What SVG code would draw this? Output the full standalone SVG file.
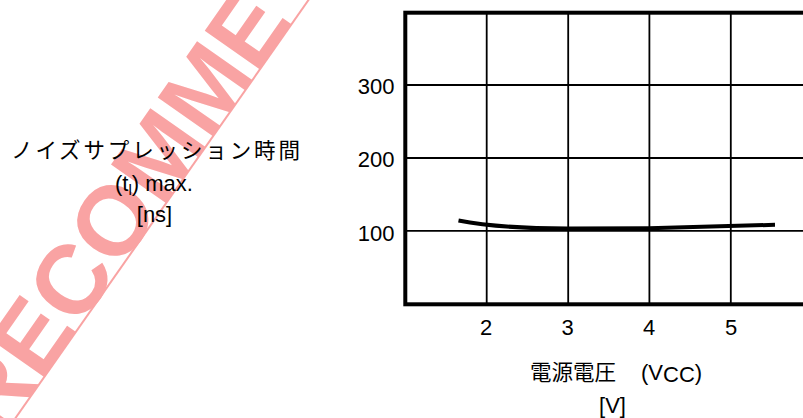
<svg xmlns="http://www.w3.org/2000/svg" width="803" height="418" viewBox="0 0 803 418">
<style>
.t{font-family:"Liberation Sans",Arial,"Noto Sans CJK JP",sans-serif;font-size:22px;fill:#000}
.j{font-family:"Noto Sans CJK JP","Liberation Sans",sans-serif;font-size:21.5px;fill:#000}
.grid{stroke:#000;stroke-width:1.8;fill:none}
.frame{stroke:#000;stroke-width:4;fill:none}
.wm{font-family:"Liberation Sans",Arial,sans-serif;font-weight:bold;font-size:98px;fill:#f9a3a3}
</style>
<rect width="803" height="418" fill="#fff"/>
<g id="watermark">
  <line x1="5" y1="433" x2="312" y2="-5" stroke="#f9a3a3" stroke-width="2"/>
  <text class="wm" transform="translate(0.1,440.4) rotate(-55)">RECOMME</text>
</g>
<g id="chart">
  <g class="grid">
    <line x1="486.7" y1="12.7" x2="486.7" y2="304"/>
    <line x1="568.2" y1="12.7" x2="568.2" y2="304"/>
    <line x1="649.4" y1="12.7" x2="649.4" y2="304"/>
    <line x1="730.8" y1="12.7" x2="730.8" y2="304"/>
    <line x1="405" y1="85" x2="803" y2="85"/>
    <line x1="405" y1="158" x2="803" y2="158"/>
    <line x1="405" y1="230.8" x2="803" y2="230.8"/>
  </g>
  <rect class="frame" x="405.3" y="12.7" width="500" height="291.6"/>
  <g class="t" text-anchor="end">
    <text x="394.5" y="93.5">300</text>
    <text x="394.5" y="166.5">200</text>
    <text x="394.5" y="241">100</text>
  </g>
  <g class="t" text-anchor="middle">
    <text x="486" y="335">2</text>
    <text x="567.5" y="335">3</text>
    <text x="649" y="335">4</text>
    <text x="731" y="335">5</text>
  </g>
</g>
<g id="data-curve">
  <path d="M458.5,220.5 Q500,228.5 568,228.6 L649,228.2 Q700,226.8 775,224.8" fill="none" stroke="#000" stroke-width="4"/>
</g>
<g id="y-axis-label">
  <text class="j" x="11" y="158" textLength="289" lengthAdjust="spacing">ノイズサプレッション時間</text>
  <text class="t" x="154" y="191" text-anchor="middle" font-size="23px">(t<tspan font-size="15" dy="4">l</tspan><tspan dy="-4">) max.</tspan></text>
  <text class="t" x="154.5" y="222" text-anchor="middle" font-size="23px">[ns]</text>
</g>
<g id="x-axis-label">
  <text x="530" y="380"><tspan class="j" font-size="22.5px">電源電圧</tspan><tspan class="t" x="641" font-size="23px">(V</tspan><tspan class="t" font-size="16px" dy="1.5">CC</tspan><tspan class="t" font-size="23px" dy="-1.5">)</tspan></text>
  <text class="t" x="612.5" y="413" text-anchor="middle" font-size="23px">[V]</text>
</g>
</svg>
